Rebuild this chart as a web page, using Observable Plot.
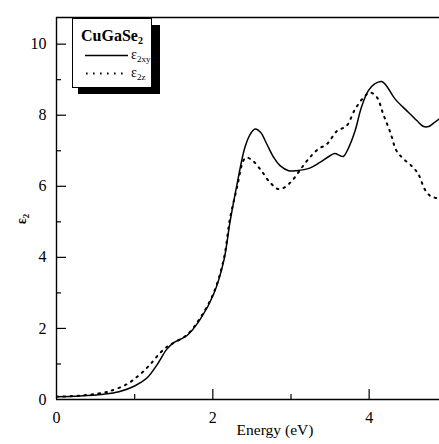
<!DOCTYPE html>
<html>
<head>
<meta charset="utf-8">
<script src="https://cdn.jsdelivr.net/npm/d3@7"></script>
<script src="https://cdn.jsdelivr.net/npm/@observablehq/plot@0.6"></script>
<style>
  html, body { margin: 0; padding: 0; background: #fff; }
  #wrap { position: relative; width: 439px; height: 444px; font-family: "Liberation Serif", "Times New Roman", serif; }
  #wrap svg text { font-family: "Liberation Serif", "Times New Roman", serif; }
  #legend-shadow { position: absolute; left: 78px; top: 25px; width: 82px; height: 69px; background: #000; }
  #legend { position: absolute; left: 72px; top: 18px; width: 78px; height: 68px; background: #fff; border: 1.3px solid #000; }
  #legend .title { position: absolute; left: 0; width: 78px; top: 9px; text-align: center; font-weight: bold; font-size: 16px; line-height: 16px; }
  #legend .title sub { font-size: 10px; vertical-align: -3px; line-height: 0; }
  #legend .entry { position: absolute; left: 58px; font-size: 14px; line-height: 14px; }
  #legend .entry sub { font-size: 9px; vertical-align: -3px; line-height: 0; }
  #legend svg { position: absolute; left: 0; top: 0; }
</style>
</head>
<body>
<div id="wrap"></div>
<script>
// ε2 of CuGaSe2: in-plane (xy) and out-of-plane (z) components vs photon energy
const energyXY = [0, 0.3, 0.6, 0.8, 1.0, 1.16, 1.29, 1.41, 1.5, 1.67, 1.84, 2.01, 2.14, 2.22, 2.31, 2.41, 2.48, 2.54, 2.61, 2.69, 2.78, 2.86, 2.97, 3.07, 3.24, 3.37, 3.5, 3.56, 3.63, 3.67, 3.73, 3.82, 3.9, 3.99, 4.07, 4.16, 4.22, 4.33, 4.48, 4.61, 4.69, 4.76, 4.82, 4.9];
const epsXY    = [0.08, 0.1, 0.15, 0.22, 0.38, 0.61, 0.99, 1.41, 1.6, 1.8, 2.26, 2.96, 3.9, 5.0, 6.06, 7.09, 7.47, 7.61, 7.52, 7.19, 6.81, 6.58, 6.44, 6.44, 6.51, 6.67, 6.86, 6.92, 6.86, 6.84, 7.05, 7.56, 8.22, 8.69, 8.88, 8.95, 8.83, 8.46, 8.13, 7.85, 7.69, 7.68, 7.77, 7.9];

const energyZ = [0, 0.3, 0.6, 0.69, 0.9, 1.07, 1.2, 1.33, 1.43, 1.52, 1.67, 1.84, 2.01, 2.14, 2.22, 2.31, 2.39, 2.43, 2.51, 2.62, 2.73, 2.84, 2.92, 3.03, 3.14, 3.24, 3.35, 3.46, 3.59, 3.71, 3.82, 3.93, 4.01, 4.1, 4.18, 4.27, 4.35, 4.44, 4.54, 4.63, 4.71, 4.78, 4.84, 4.9];
const epsZ    = [0.08, 0.11, 0.19, 0.24, 0.43, 0.71, 0.99, 1.32, 1.51, 1.62, 1.82, 2.3, 3.0, 3.95, 5.1, 5.97, 6.72, 6.81, 6.72, 6.44, 6.11, 5.92, 5.97, 6.2, 6.53, 6.81, 7.05, 7.19, 7.56, 7.7, 8.17, 8.5, 8.64, 8.5, 8.03, 7.52, 7.0, 6.77, 6.58, 6.34, 5.92, 5.73, 5.68, 5.66];

const xDomain = [0, 4.9];
const yDomain = [0, 10.75];
const xMajor = [2, 4];
const xMinor = [1, 3];
const xLabels = [0, 2, 4];
const yMajor = [2, 4, 6, 8, 10];
const yMinor = [1, 3, 5, 7, 9];
const yLabels = [0, 2, 4, 6, 8, 10];

const W = 439, H = 444;
const mLeft = 56, mRight = 0, mTop = 17, mBottom = 45;
const frameW = W - mLeft - mRight, frameH = H - mTop - mBottom;

const xy = energyXY.map((e, i) => ({e, v: epsXY[i]}));
const zz = energyZ.map((e, i) => ({e, v: epsZ[i]}));

const chart = Plot.plot({
  width: W, height: H,
  marginLeft: mLeft, marginRight: mRight, marginTop: mTop, marginBottom: mBottom,
  style: {fontFamily: '"Liberation Serif", "Times New Roman", serif', fontSize: "16px", color: "#000", background: "#fff"},
  x: {domain: xDomain, axis: null},
  y: {domain: yDomain, axis: null},
  marks: [
    Plot.line(zz, {x: "e", y: "v", stroke: "#000", strokeWidth: 2, strokeDasharray: "1.6 5.4", curve: "catmull-rom", clip: true}),
    Plot.line(xy, {x: "e", y: "v", stroke: "#000", strokeWidth: 1.5, curve: "catmull-rom", clip: true}),
    // inward ticks
    Plot.tickX(xMajor, {x: d => d, stroke: "#000", strokeWidth: 1.2, insetTop: frameH - 10}),
    Plot.tickX(xMinor, {x: d => d, stroke: "#000", strokeWidth: 1.2, insetTop: frameH - 5}),
    Plot.tickY(yMajor, {y: d => d, stroke: "#000", strokeWidth: 1.2, insetRight: frameW - 10}),
    Plot.tickY(yMinor, {y: d => d, stroke: "#000", strokeWidth: 1.2, insetRight: frameW - 5}),
    // tick labels
    Plot.axisX(xLabels, {tickSize: 0, tickPadding: 12, label: null, fontSize: 16, tickFormat: d => d}),
    Plot.axisY(yLabels, {tickSize: 0, tickPadding: 10, label: null, fontSize: 16, tickFormat: d => d}),
    // frame lines: left, bottom, top
    Plot.ruleX([xDomain[0]], {stroke: "#000", strokeWidth: 1.4}),
    Plot.ruleY([yDomain[0]], {stroke: "#000", strokeWidth: 1.4}),
    Plot.ruleY([yDomain[1]], {stroke: "#000", strokeWidth: 1.4})
  ]
});

const wrap = document.getElementById("wrap");
wrap.appendChild(chart);

// axis titles with subscripts
const svg = d3.select(chart);
svg.append("text")
  .attr("x", 275).attr("y", 435)
  .attr("text-anchor", "middle")
  .attr("font-size", 15.5)
  .attr("fill", "#000")
  .text("Energy (eV)");

const yl = svg.append("text")
  .attr("transform", "translate(26,219) rotate(-90)")
  .attr("text-anchor", "middle")
  .attr("font-size", 14)
  .attr("font-weight", "bold")
  .attr("fill", "#000");
yl.append("tspan").text("ε");
yl.append("tspan").attr("font-size", 9).attr("dy", 3).text("2");

// legend box with drop shadow
const shadow = document.createElement("div");
shadow.id = "legend-shadow";
wrap.appendChild(shadow);
const legend = document.createElement("div");
legend.id = "legend";
legend.innerHTML = `
  <svg width="78" height="68">
    <line x1="12" x2="55" y1="36.5" y2="36.5" stroke="#000" stroke-width="1.3"></line>
    <line x1="13" x2="55" y1="54.5" y2="54.5" stroke="#000" stroke-width="2" stroke-dasharray="1.6 5.4"></line>
  </svg>
  <div class="title">CuGaSe<sub>2</sub></div>
  <div class="entry" style="top:29px">ε<sub>2xy</sub></div>
  <div class="entry" style="top:47px">ε<sub>2z</sub></div>`;
wrap.appendChild(legend);
</script>
</body>
</html>
